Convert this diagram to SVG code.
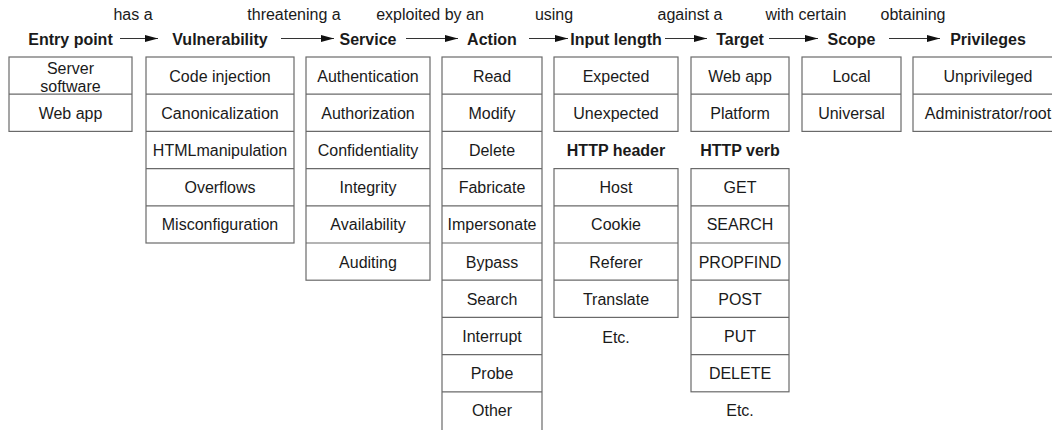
<svg xmlns="http://www.w3.org/2000/svg" width="1052" height="430" viewBox="0 0 1052 430">
  <style>
    text { font-family: "Liberation Sans", Arial, sans-serif; font-size: 16px; fill: #1a1a1a; text-anchor: middle; }
    .hdr { font-weight: bold; }
    .box { fill: #ffffff; stroke: #6a6a6a; stroke-width: 1.2; }
    .div { stroke: #6a6a6a; stroke-width: 1.2; }
    .arrow { stroke: #333333; stroke-width: 1.2; fill: none; marker-end: url(#head); }
  </style>
  <defs>
    <marker id="head" markerUnits="userSpaceOnUse" markerWidth="14" markerHeight="8" refX="13" refY="4" orient="auto">
      <path d="M0,0.5 L13,4 L0,7.5 Z" fill="#111111"/>
    </marker>
  </defs>
  <rect width="1052" height="430" fill="#ffffff"/>

  <!-- relation labels above the chain -->
  <g id="relations">
    <text x="133" y="20">has a</text>
    <text x="294" y="20">threatening a</text>
    <text x="430" y="20">exploited by an</text>
    <text x="554" y="20">using</text>
    <text x="690" y="20">against a</text>
    <text x="806" y="20">with certain</text>
    <text x="913" y="20">obtaining</text>
  </g>

  <!-- arrows between the category headings -->
  <g id="connectors">
    <line class="arrow" x1="120" y1="38.5" x2="158" y2="38.5"/>
    <line class="arrow" x1="281" y1="38.5" x2="334" y2="38.5"/>
    <line class="arrow" x1="406" y1="38.5" x2="458" y2="38.5"/>
    <line class="arrow" x1="529" y1="38.5" x2="568" y2="38.5"/>
    <line class="arrow" x1="665" y1="38.5" x2="707" y2="38.5"/>
    <line class="arrow" x1="769" y1="38.5" x2="818" y2="38.5"/>
    <line class="arrow" x1="889" y1="38.5" x2="940" y2="38.5"/>
  </g>

  <g id="entry-point">
    <text class="hdr" x="70.5" y="45">Entry point</text>
    <rect class="box" x="9" y="57" width="123" height="74.4"/>
    <line class="div" x1="9" y1="94.2" x2="132" y2="94.2"/>
    <text x="70.5" y="74">Server</text>
    <text x="70.5" y="91.5">software</text>
    <text x="70.5" y="119">Web app</text>
  </g>

  <g id="vulnerability">
    <text class="hdr" x="220" y="45">Vulnerability</text>
    <rect class="box" x="146" y="57" width="148" height="186"/>
    <line class="div" x1="146" y1="94.2" x2="294" y2="94.2"/>
    <line class="div" x1="146" y1="131.4" x2="294" y2="131.4"/>
    <line class="div" x1="146" y1="168.6" x2="294" y2="168.6"/>
    <line class="div" x1="146" y1="205.8" x2="294" y2="205.8"/>
    <text x="220" y="81.5">Code injection</text>
    <text x="220" y="118.7">Canonicalization</text>
    <text x="220" y="155.9">HTMLmanipulation</text>
    <text x="220" y="193.1">Overflows</text>
    <text x="220" y="230.3">Misconfiguration</text>
  </g>

  <g id="service">
    <text class="hdr" x="368" y="45">Service</text>
    <rect class="box" x="306" y="57" width="124" height="223.2"/>
    <line class="div" x1="306" y1="94.2" x2="430" y2="94.2"/>
    <line class="div" x1="306" y1="131.4" x2="430" y2="131.4"/>
    <line class="div" x1="306" y1="168.6" x2="430" y2="168.6"/>
    <line class="div" x1="306" y1="205.8" x2="430" y2="205.8"/>
    <line class="div" x1="306" y1="243" x2="430" y2="243"/>
    <text x="368" y="81.5">Authentication</text>
    <text x="368" y="118.7">Authorization</text>
    <text x="368" y="155.9">Confidentiality</text>
    <text x="368" y="193.1">Integrity</text>
    <text x="368" y="230.3">Availability</text>
    <text x="368" y="267.5">Auditing</text>
  </g>

  <g id="action">
    <text class="hdr" x="492" y="45">Action</text>
    <rect class="box" x="442" y="57" width="100" height="380"/>
    <line class="div" x1="442" y1="94.2" x2="542" y2="94.2"/>
    <line class="div" x1="442" y1="131.4" x2="542" y2="131.4"/>
    <line class="div" x1="442" y1="168.6" x2="542" y2="168.6"/>
    <line class="div" x1="442" y1="205.8" x2="542" y2="205.8"/>
    <line class="div" x1="442" y1="243" x2="542" y2="243"/>
    <line class="div" x1="442" y1="280.2" x2="542" y2="280.2"/>
    <line class="div" x1="442" y1="317.4" x2="542" y2="317.4"/>
    <line class="div" x1="442" y1="354.6" x2="542" y2="354.6"/>
    <line class="div" x1="442" y1="391.8" x2="542" y2="391.8"/>
    <text x="492" y="81.5">Read</text>
    <text x="492" y="118.7">Modify</text>
    <text x="492" y="155.9">Delete</text>
    <text x="492" y="193.1">Fabricate</text>
    <text x="492" y="230.3">Impersonate</text>
    <text x="492" y="267.5">Bypass</text>
    <text x="492" y="304.7">Search</text>
    <text x="492" y="341.9">Interrupt</text>
    <text x="492" y="379.1">Probe</text>
    <text x="492" y="416.3">Other</text>
  </g>

  <g id="input-length">
    <text class="hdr" x="616" y="45">Input length</text>
    <rect class="box" x="554" y="57" width="124" height="74.4"/>
    <line class="div" x1="554" y1="94.2" x2="678" y2="94.2"/>
    <text x="616" y="81.5">Expected</text>
    <text x="616" y="118.7">Unexpected</text>
  </g>

  <g id="http-header">
    <text class="hdr" x="616" y="156">HTTP header</text>
    <rect class="box" x="554" y="168.6" width="124" height="148.8"/>
    <line class="div" x1="554" y1="205.8" x2="678" y2="205.8"/>
    <line class="div" x1="554" y1="243" x2="678" y2="243"/>
    <line class="div" x1="554" y1="280.2" x2="678" y2="280.2"/>
    <text x="616" y="193.1">Host</text>
    <text x="616" y="230.3">Cookie</text>
    <text x="616" y="267.5">Referer</text>
    <text x="616" y="304.7">Translate</text>
    <text x="616" y="342.5">Etc.</text>
  </g>

  <g id="target">
    <text class="hdr" x="740" y="45">Target</text>
    <rect class="box" x="691" y="57" width="98" height="74.4"/>
    <line class="div" x1="691" y1="94.2" x2="789" y2="94.2"/>
    <text x="740" y="81.5">Web app</text>
    <text x="740" y="118.7">Platform</text>
  </g>

  <g id="http-verb">
    <text class="hdr" x="740" y="156">HTTP verb</text>
    <rect class="box" x="691" y="168.6" width="98" height="223.2"/>
    <line class="div" x1="691" y1="205.8" x2="789" y2="205.8"/>
    <line class="div" x1="691" y1="243" x2="789" y2="243"/>
    <line class="div" x1="691" y1="280.2" x2="789" y2="280.2"/>
    <line class="div" x1="691" y1="317.4" x2="789" y2="317.4"/>
    <line class="div" x1="691" y1="354.6" x2="789" y2="354.6"/>
    <text x="740" y="193.1">GET</text>
    <text x="740" y="230.3">SEARCH</text>
    <text x="740" y="267.5">PROPFIND</text>
    <text x="740" y="304.7">POST</text>
    <text x="740" y="341.9">PUT</text>
    <text x="740" y="379.1">DELETE</text>
    <text x="740" y="416.3">Etc.</text>
  </g>

  <g id="scope">
    <text class="hdr" x="851.5" y="45">Scope</text>
    <rect class="box" x="802" y="57" width="99" height="74.4"/>
    <line class="div" x1="802" y1="94.2" x2="901" y2="94.2"/>
    <text x="851.5" y="81.5">Local</text>
    <text x="851.5" y="118.7">Universal</text>
  </g>

  <g id="privileges">
    <text class="hdr" x="988" y="45">Privileges</text>
    <rect class="box" x="913" y="57" width="150" height="74.4"/>
    <line class="div" x1="913" y1="94.2" x2="1063" y2="94.2"/>
    <text x="988" y="81.5">Unprivileged</text>
    <text x="988" y="118.7">Administrator/root</text>
  </g>
</svg>
